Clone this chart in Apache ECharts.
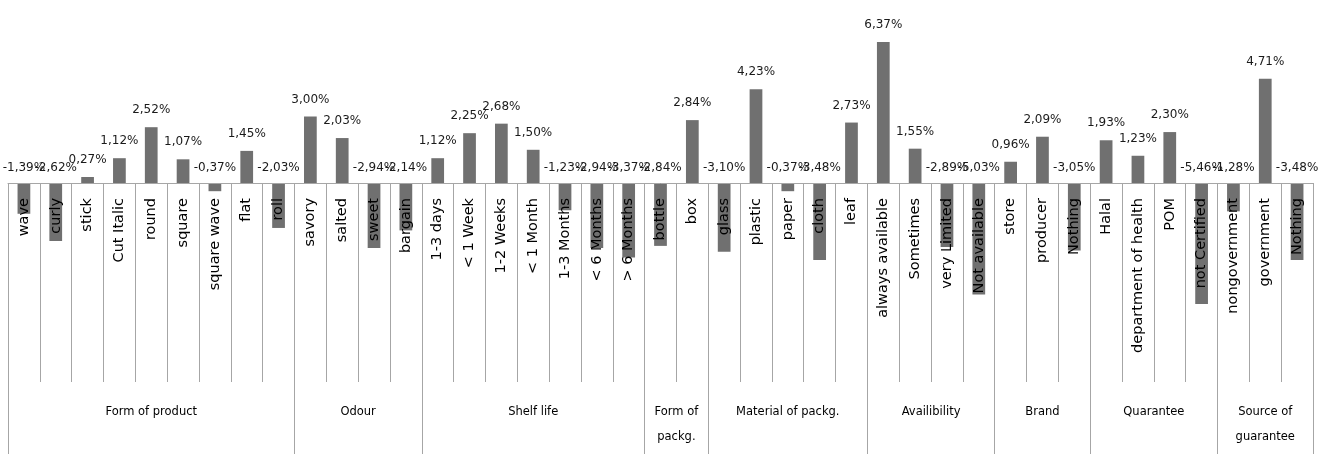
<!DOCTYPE html>
<html><head><meta charset="utf-8">
<script src="https://cdn.jsdelivr.net/npm/echarts@6/dist/echarts.min.js"></script>
<style>html,body{margin:0;padding:0;background:#fff}#c{width:1330px;height:454px}</style>
</head><body><div id="c"></div>
<script>
const categories = ['wave','curly','stick','Cut Italic','round','square','square wave','flat','roll',
  'savory','salted','sweet','bargain',
  '1-3 days','< 1 Week','1-2 Weeks','< 1 Month','1-3 Months','< 6 Months','> 6 Months',
  'bottle','box',
  'glass','plastic','paper','cloth','leaf',
  'always available','Sometimes','very Limited','Not available',
  'store','producer','Nothing',
  'Halal','department of health','POM','not Certified',
  'nongovernment','government','Nothing'];
const values = [-1.39,-2.62,0.27,1.12,2.52,1.07,-0.37,1.45,-2.03,
  3.00,2.03,-2.94,-2.14,
  1.12,2.25,2.68,1.50,-1.23,-2.94,-3.37,
  -2.84,2.84,
  -3.10,4.23,-0.37,-3.48,2.73,
  6.37,1.55,-2.89,-5.03,
  0.96,2.09,-3.05,
  1.93,1.23,2.30,-5.46,
  -1.28,4.71,-3.48];
const groupNames = ['Form of product','Odour','Shelf life','Form of\npackg.','Material of packg.','Availibility','Brand','Quarantee','Source of\nguarantee'];
const groupSizes = [9,4,7,2,5,4,3,4,3];

const bounds = [0];
groupSizes.forEach(s => bounds.push(bounds[bounds.length-1] + s));
const centers = groupSizes.map((s,i) => bounds[i] + s/2);
const centerName = {};
centers.forEach((c,i) => centerName[c] = groupNames[i]);

const chart = echarts.init(document.getElementById('c'), null, {renderer:'canvas'});
chart.setOption({
  animation: false,
  backgroundColor: '#fff',
  grid: {left: 8, right: 17, top: 28, bottom: 271, containLabel: false, outerBoundsMode: 'none'},
  xAxis: [{
    type: 'category',
    data: categories,
    z: 5,
    axisLine: {show: true, onZero: false, lineStyle: {color: '#a6a6a6', width: 1}},
    axisTick: {show: true, interval: 0, length: 199, lineStyle: {color: '#a6a6a6'}},
    axisLabel: {interval: 0, rotate: 90, margin: 15, fontFamily: 'DejaVu Sans', fontSize: 14.5, color: '#000', hideOverlap: false},
    splitLine: {show: false}
  }, {
    type: 'value',
    min: 0, max: bounds[bounds.length-1],
    position: 'bottom',
    z: 5,
    axisLine: {show: false, onZero: false},
    axisTick: {show: true, customValues: bounds, length: 271, lineStyle: {color: '#a6a6a6'}},
    axisLabel: {show: true, customValues: centers, margin: 217, verticalAlign: 'top', lineHeight: 25,
      fontFamily: 'DejaVu Sans', fontSize: 11.5, color: '#000',
      formatter: v => centerName[v] || ''},
    splitLine: {show: false}
  }],
  yAxis: {type: 'value', min: 0, max: 7, show: false, splitLine: {show: false}},
  series: [{
    type: 'bar',
    xAxisIndex: 0,
    barWidth: '40%',
    clip: false,
    itemStyle: {color: '#707070'},
    label: {show: true, position: 'top', fontFamily: 'DejaVu Sans', fontSize: 12, color: '#1a1a1a',
      formatter: p => p.value.toFixed(2).replace('.', ',') + '%'},
    data: values.map(v => ({value: v, label: {distance: v < 0 ? 9 : 11}}))
  }]
});
</script></body></html>
